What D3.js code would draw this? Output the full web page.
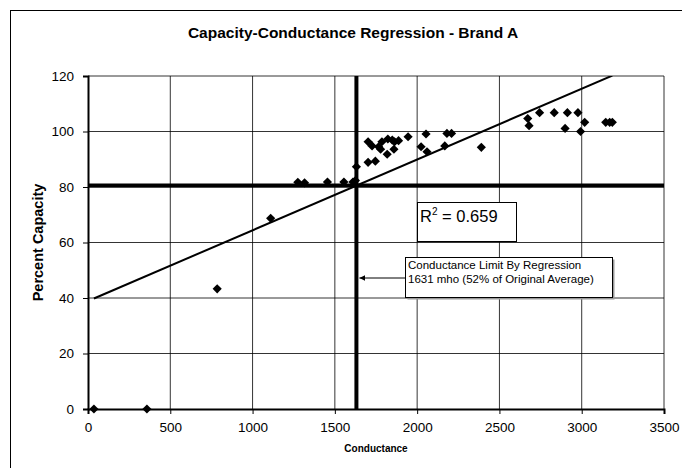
<!DOCTYPE html>
<html lang="en">
<head>
    <meta charset="UTF-8">
    <title>Capacity-Conductance Regression - Brand A</title>
    <style>
        body { margin: 0; background: #fff; }
        svg { display: block; font-family: "Liberation Sans", Arial, sans-serif; }
        .tick text { font-size: 13.5px; fill: #000; }
        .grid line { stroke: #000; stroke-width: 0.8; }
        .note { font-size: 11.5px; fill: #000; }
    </style>
</head>
<body>
    <div id="chart"></div>

    <script src="https://d3js.org/d3.v7.min.js"></script>
    <script>
        // measured points (conductance in mho, percent capacity)
        const conductance = [36, 358, 785, 1110, 1275, 1316, 1455, 1555, 1610, 1625, 1631,
            1702, 1746, 1702, 1726, 1766, 1778, 1786, 1818, 1822, 1849, 1863, 1887, 1859,
            1945, 2054, 2024, 2060, 2181, 2209, 2168, 2390, 2672, 2680, 2744, 2833, 2913,
            2899, 2977, 3018, 2993, 3146, 3170, 3186];
        const capacity = [0, 0, 43.3, 68.7, 81.7, 81.5, 81.8, 81.8, 81.8, 82.3, 87.3,
            88.9, 89.3, 96.3, 94.8, 94.5, 93.6, 96.3, 91.8, 97.3, 96.9, 96.3, 96.7, 93.6,
            98.1, 99.1, 94.5, 92.7, 99.3, 99.3, 94.8, 94.3, 104.7, 102.1, 106.8, 106.8, 106.8,
            101.1, 106.8, 103.3, 100.0, 103.3, 103.3, 103.3];

        const xTicks = [0, 500, 1000, 1500, 2000, 2500, 3000, 3500];
        const yTicks = [0, 20, 40, 60, 80, 100, 120];

        // linear trendline as shown on the chart
        const trendSlope = 0.0255;
        const trendIntercept = 38.9;
        const rSquared = 0.659;

        const limitCapacity = 80.5;
        const limitConductance = 1631;
        const noteLines = ["Conductance Limit By Regression", "1631 mho (52% of Original Average)"];

        const width = 682, height = 468;
        const margin = { top: 76, right: 18, bottom: 59, left: 88 };

        const svg = d3.select("#chart").append("svg")
            .attr("width", width)
            .attr("height", height);

        // outer chart frame
        svg.append("rect")
            .attr("x", 10.5).attr("y", 10.5)
            .attr("width", 700).attr("height", 500)
            .attr("fill", "none").attr("stroke", "#000").attr("stroke-width", 1);

        const x = d3.scaleLinear()
            .domain([0, 3500])
            .range([margin.left, width - margin.right]);
        const y = d3.scaleLinear()
            .domain([0, 120])
            .range([height - margin.bottom, margin.top]);

        // gridlines
        svg.append("g").attr("class", "grid")
            .selectAll("line.v").data(xTicks.slice(1)).enter().append("line")
            .attr("x1", d => x(d)).attr("x2", d => x(d))
            .attr("y1", y(0)).attr("y2", y(120));
        svg.append("g").attr("class", "grid")
            .selectAll("line.h").data(yTicks.slice(1)).enter().append("line")
            .attr("x1", x(0)).attr("x2", x(3500))
            .attr("y1", d => y(d)).attr("y2", d => y(d));

        // axes
        const xAxis = svg.append("g")
            .attr("transform", `translate(0,${y(0)})`)
            .call(d3.axisBottom(x).tickValues(xTicks).tickSize(5).tickPadding(8).tickFormat(d3.format("d")));
        const yAxis = svg.append("g")
            .attr("transform", `translate(${x(0)},0)`)
            .call(d3.axisLeft(y).tickValues(yTicks).tickSize(5).tickPadding(9).tickFormat(d3.format("d")));
        [xAxis, yAxis].forEach(a => {
            a.select(".domain").attr("stroke", "#000").attr("stroke-width", 2);
            a.selectAll(".tick line").attr("stroke", "#000");
        });

        // threshold lines
        svg.append("line")
            .attr("x1", x(0)).attr("x2", x(3500))
            .attr("y1", y(limitCapacity)).attr("y2", y(limitCapacity))
            .attr("stroke", "#000").attr("stroke-width", 4);
        svg.append("line")
            .attr("x1", x(limitConductance)).attr("x2", x(limitConductance))
            .attr("y1", y(0)).attr("y2", y(120))
            .attr("stroke", "#000").attr("stroke-width", 4);

        // trendline, from min to max conductance, clipped to the plot
        svg.append("clipPath").attr("id", "plotClip")
            .append("rect")
            .attr("x", x(0)).attr("y", y(120))
            .attr("width", x(3500) - x(0)).attr("height", y(0) - y(120));
        const x0 = d3.min(conductance), x1 = d3.max(conductance);
        svg.append("line")
            .attr("clip-path", "url(#plotClip)")
            .attr("x1", x(x0)).attr("y1", y(trendIntercept + trendSlope * x0))
            .attr("x2", x(x1)).attr("y2", y(trendIntercept + trendSlope * x1))
            .attr("stroke", "#000").attr("stroke-width", 2);

        // points
        const points = conductance.map((c, i) => ({ c: c, v: capacity[i] }));
        svg.append("g")
            .selectAll("path")
            .data(points)
            .enter()
            .append("path")
            .attr("d", d3.symbol().type(d3.symbolSquare).size(42))
            .attr("transform", d => `translate(${x(d.c)},${y(d.v)}) rotate(45)`)
            .attr("fill", "#000");

        // R squared box
        const rBox = svg.append("g").attr("transform", "translate(417,202)");
        rBox.append("rect")
            .attr("x", 0.5).attr("y", 0.5)
            .attr("width", 99).attr("height", 39)
            .attr("fill", "#fff").attr("stroke", "#000").attr("stroke-width", 1);
        const rText = rBox.append("text")
            .attr("x", 3).attr("y", 20)
            .attr("font-size", 16.5);
        rText.append("tspan").text("R");
        rText.append("tspan").attr("font-size", 10).attr("dy", -7).text("2");
        rText.append("tspan").attr("dy", 7).text(` = ${rSquared}`);

        // note box with arrow to the limit line
        const noteX = 405, noteY = 257;
        svg.append("rect")
            .attr("x", noteX + 2.5).attr("y", noteY + 2.5)
            .attr("width", 207).attr("height", 40)
            .attr("fill", "#999");
        svg.append("rect")
            .attr("x", noteX + 0.5).attr("y", noteY + 0.5)
            .attr("width", 207).attr("height", 40)
            .attr("fill", "#fff").attr("stroke", "#000").attr("stroke-width", 1);
        svg.selectAll("text.note")
            .data(noteLines)
            .enter()
            .append("text")
            .attr("class", "note")
            .attr("x", noteX + 3)
            .attr("y", (d, i) => noteY + 12 + i * 14)
            .text(d => d);

        svg.append("defs").append("marker")
            .attr("id", "arrow")
            .attr("viewBox", "0 0 10 10")
            .attr("refX", 10).attr("refY", 5)
            .attr("markerWidth", 6).attr("markerHeight", 6)
            .attr("orient", "auto")
            .append("path")
            .attr("d", "M0,0L10,5L0,10Z")
            .attr("fill", "#000");
        svg.append("line")
            .attr("x1", noteX).attr("y1", noteY + 21)
            .attr("x2", x(limitConductance) + 3).attr("y2", noteY + 21)
            .attr("stroke", "#000").attr("stroke-width", 1)
            .attr("marker-end", "url(#arrow)");

        // titles
        svg.append("text")
            .attr("x", 353).attr("y", 38)
            .attr("text-anchor", "middle")
            .attr("font-size", 15.5).attr("font-weight", "bold")
            .text("Capacity-Conductance Regression - Brand A");
        svg.append("text")
            .attr("transform", `translate(43,${(y(0) + y(120)) / 2}) rotate(-90)`)
            .attr("text-anchor", "middle")
            .attr("font-size", 14.5).attr("font-weight", "bold")
            .text("Percent Capacity");
        svg.append("text")
            .attr("x", 376).attr("y", 452)
            .attr("text-anchor", "middle")
            .attr("font-size", 10).attr("font-weight", "bold")
            .text("Conductance");
    </script>
</body>
</html>
